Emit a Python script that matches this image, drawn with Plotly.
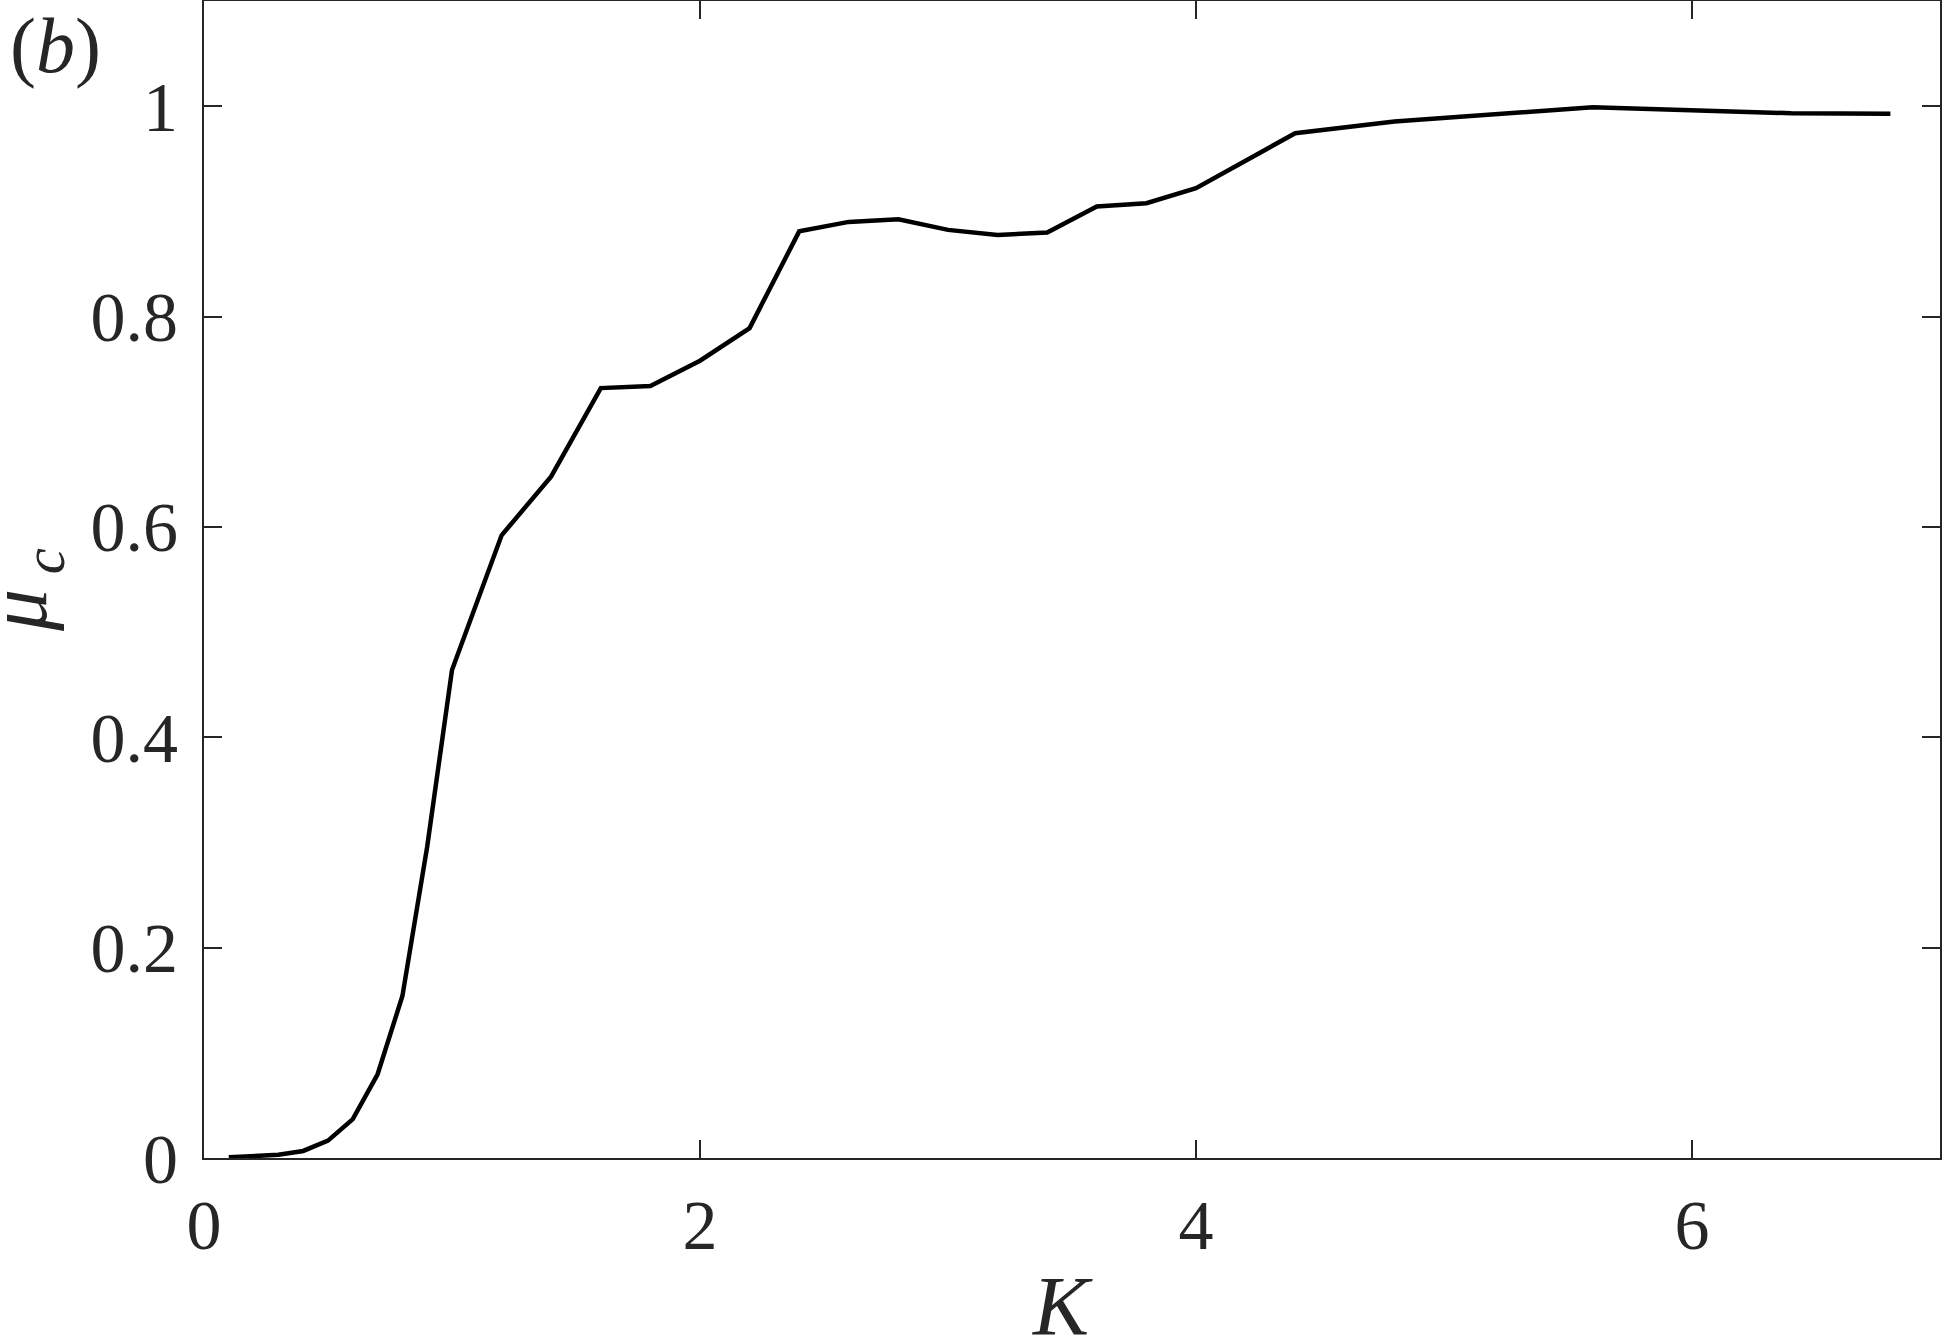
import plotly.graph_objects as go

K = [0.1, 0.3, 0.4, 0.5, 0.6, 0.7, 0.8, 0.9, 1.0, 1.2, 1.4, 1.6, 1.8, 2.0, 2.2,
     2.4, 2.6, 2.8, 3.0, 3.2, 3.4, 3.6, 3.8, 4.0, 4.4, 4.8, 5.6, 6.0, 6.4, 6.8]
mu_c = [0.0007, 0.003, 0.0067, 0.0165, 0.037, 0.0796, 0.154, 0.296, 0.464, 0.592,
        0.648, 0.732, 0.734, 0.758, 0.789, 0.881, 0.890, 0.8925, 0.8824, 0.8776,
        0.8798, 0.9046, 0.9078, 0.922, 0.9743, 0.9854, 0.999, 0.9957, 0.9933, 0.9927]

x_ticks = [0, 2, 4, 6]
x_ticklabels = ["0", "2", "4", "6"]
y_ticks = [0, 0.2, 0.4, 0.6, 0.8, 1.0]
y_ticklabels = ["0", "0.2", "0.4", "0.6", "0.8", "1"]

W, H = 1942, 1336
ML, MR, MT, MB = 204, 2, 1, 178
PW, PH = W - ML - MR, H - MT - MB

FONT = "Liberation Serif"
AX = "#262626"

fig = go.Figure()
fig.add_trace(go.Scatter(x=K, y=mu_c, mode="lines",
                         line=dict(color="black", width=4.5), showlegend=False))

axis_common = dict(showline=True, linecolor=AX, linewidth=2, mirror="ticks",
                   ticks="inside", ticklen=18, tickwidth=1.5, tickcolor=AX,
                   showgrid=False, zeroline=False, automargin=False,
                   tickfont=dict(family=FONT, size=70, color=AX))

fig.update_xaxes(range=[0, 7], tickvals=x_ticks, ticktext=x_ticklabels,
                 ticklabelstandoff=5, **axis_common)
fig.update_yaxes(range=[0, 1.1], tickvals=y_ticks, ticktext=y_ticklabels,
                 ticklabelstandoff=10, **axis_common)

def px_x(p):
    return (p - ML) / PW

def px_y(p):
    return 1 - (p - MT) / PH

fig.add_annotation(text="(<i>b</i>)", xref="paper", yref="paper",
                   x=px_x(8), y=px_y(0), xanchor="left", yanchor="top",
                   showarrow=False, font=dict(family=FONT, size=78, color=AX))
fig.add_annotation(text="<i>K</i>", xref="paper", yref="paper",
                   x=px_x(1062), y=px_y(1306), xanchor="center", yanchor="middle",
                   showarrow=False, font=dict(family=FONT, size=84, color=AX))
fig.add_annotation(text="<i>μ</i><sub> <i>c</i></sub>", xref="paper", yref="paper",
                   x=px_x(24), y=px_y(590), xanchor="center", yanchor="middle",
                   textangle=-90, showarrow=False,
                   font=dict(family=FONT, size=84, color=AX))

fig.update_layout(width=W, height=H, margin=dict(l=ML, r=MR, t=MT, b=MB),
                  paper_bgcolor="white", plot_bgcolor="white")

fig.write_html("out.html", config={"displayModeBar": False},
               post_script="document.body.style.margin='0';document.body.style.overflow='hidden';")
